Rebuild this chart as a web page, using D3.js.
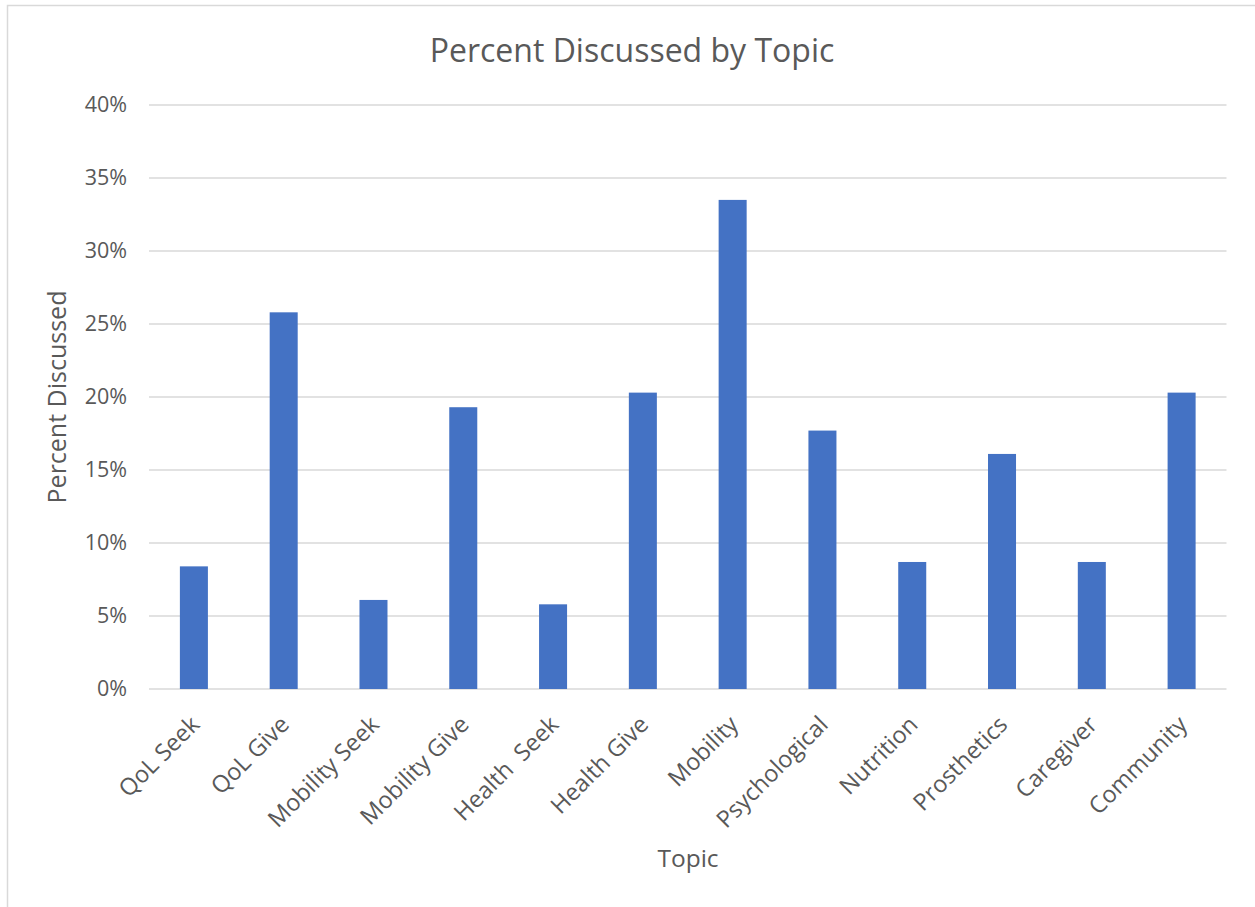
<!DOCTYPE html>
<html>
<head>
<meta charset="utf-8">
<script src="https://cdn.jsdelivr.net/npm/d3@7"></script>
<style>
  html, body { margin: 0; padding: 0; background: #fff; }
  svg { display: block; }
  text { font-family: "Open Sans", "Noto Sans", sans-serif; fill: #595959; }
</style>
</head>
<body>
<svg id="chart" width="1255" height="907"></svg>
<script>
const categories = ["QoL Seek", "QoL Give", "Mobility Seek", "Mobility Give", "Health  Seek", "Health Give", "Mobility", "Psychological", "Nutrition", "Prosthetics", "Caregiver", "Community"];
const values = [8.4, 25.8, 6.1, 19.3, 5.8, 20.3, 33.5, 17.7, 8.7, 16.1, 8.7, 20.3];
const yTicks = [0, 5, 10, 15, 20, 25, 30, 35, 40];
const title = "Percent Discussed by Topic";
const xTitle = "Topic";
const yTitle = "Percent Discussed";

const W = 1255, H = 907;
const plot = { left: 149, right: 1226.5, top: 105, bottom: 689 };

const svg = d3.select("#chart");

// chart border (cropped on the right and bottom)
svg.append("rect")
  .attr("x", 7.5).attr("y", 5.5)
  .attr("width", 1400).attr("height", 1200)
  .attr("fill", "none").attr("stroke", "#d9d9d9").attr("stroke-width", 1.5);

const x = d3.scaleBand()
  .domain(categories)
  .range([plot.left, plot.right])
  .paddingInner(0.688)
  .paddingOuter(0.344);

const y = d3.scaleLinear()
  .domain([0, 40])
  .range([plot.bottom, plot.top]);

// gridlines
svg.append("g")
  .selectAll("line")
  .data(yTicks)
  .join("line")
  .attr("x1", plot.left).attr("x2", plot.right)
  .attr("y1", d => y(d)).attr("y2", d => y(d))
  .attr("stroke", "#d9d9d9").attr("stroke-width", 1.3);

// y tick labels
const yAxis = d3.axisLeft(y).tickValues(yTicks).tickFormat(d => d + "%").tickSize(0).tickPadding(22);
const yg = svg.append("g").attr("transform", `translate(${plot.left},0)`).call(yAxis);
yg.select(".domain").remove();
yg.selectAll("text").attr("font-size", 21.5).attr("fill", "#595959")
  .style("font-family", '"Open Sans", sans-serif');

// bars
svg.append("g")
  .selectAll("rect")
  .data(values)
  .join("rect")
  .attr("x", (d, i) => x(categories[i]))
  .attr("width", x.bandwidth())
  .attr("y", d => y(d))
  .attr("height", d => y(0) - y(d))
  .attr("fill", "#4472C4");

// x category labels
const xAxis = d3.axisBottom(x).tickSize(0).tickPadding(0);
const xg = svg.append("g").attr("transform", `translate(0,${plot.bottom})`).call(xAxis);
xg.select(".domain").remove();
xg.selectAll(".tick text")
  .attr("font-size", 23.5)
  .attr("fill", "#595959")
  .style("font-family", '"Open Sans", sans-serif')
  .style("white-space", "pre")
  .attr("text-anchor", "end")
  .attr("y", 0).attr("dy", 0)
  .attr("transform", "translate(7,37) rotate(-45)");

// title
svg.append("text")
  .attr("x", 632).attr("y", 62)
  .attr("text-anchor", "middle")
  .attr("font-size", 32)
  .text(title);

// axis titles
svg.append("text")
  .attr("x", 688).attr("y", 867)
  .attr("text-anchor", "middle")
  .attr("font-size", 24.5)
  .text(xTitle);

svg.append("text")
  .attr("transform", `translate(66,${(plot.top + plot.bottom) / 2}) rotate(-90)`)
  .attr("text-anchor", "middle")
  .attr("font-size", 25)
  .text(yTitle);
</script>
</body>
</html>
